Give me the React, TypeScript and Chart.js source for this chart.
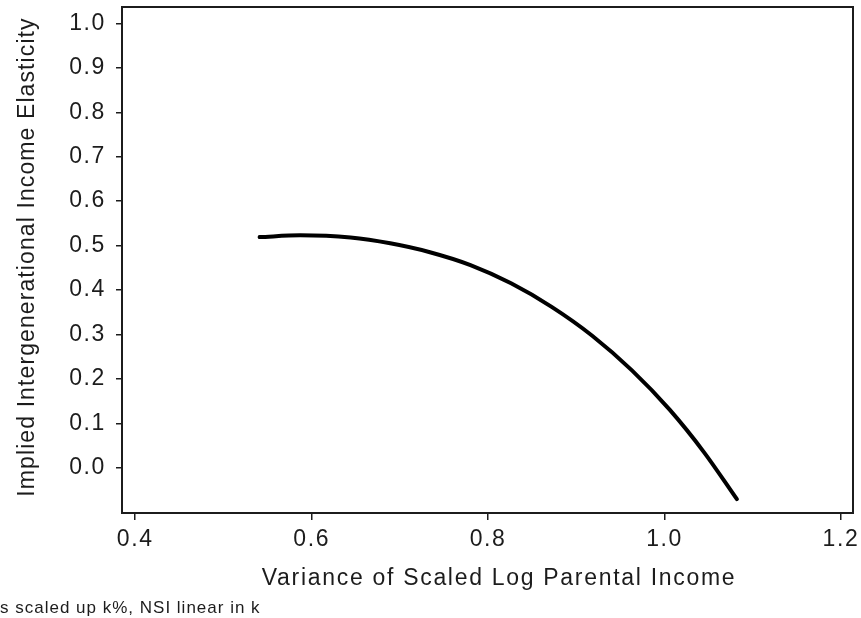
import { useEffect, useRef } from "react";
import { Chart, registerables } from "chart.js";

Chart.register(...registerables);

// Variance of scaled log parental income (x) and implied elasticity (y)
const varianceX = [0.541, 0.587, 0.644, 0.689, 0.734, 0.78, 0.826, 0.872, 0.918, 0.963, 1.006, 1.045, 1.082];
const elasticityY = [0.519, 0.523, 0.518, 0.505, 0.485, 0.456, 0.415, 0.362, 0.297, 0.219, 0.13, 0.034, -0.071];

const xTicks = [0.4, 0.6, 0.8, 1.0, 1.2];
const yTicks = [0.0, 0.1, 0.2, 0.3, 0.4, 0.5, 0.6, 0.7, 0.8, 0.9, 1.0];
const xRange = [0.385, 1.2136];
const yRange = [-0.102, 1.037];

const xTitle = "Variance of Scaled Log Parental Income";
const yTitle = "Implied Intergenerational Income Elasticity";
const footnote = "s scaled up k%, NSI linear in k";

const FONT = "'Liberation Sans', Arial, Helvetica, sans-serif";
const INK = "#1c1c1c";
const TICK_SPACING = "1.6px";

// Wide lettering for the tick labels
const spacingPlugin = {
  id: "letterSpacing",
  afterInit(chart: any) {
    chart.ctx.letterSpacing = TICK_SPACING;
  },
  beforeUpdate(chart: any) {
    chart.ctx.letterSpacing = TICK_SPACING;
  },
  beforeDraw(chart: any) {
    chart.ctx.letterSpacing = TICK_SPACING;
  },
};

// Closed frame, axis titles and the note under the x axis
const framePlugin = {
  id: "frameTitlesNote",
  afterDraw(chart: any) {
    const { ctx, chartArea } = chart;
    ctx.save();
    ctx.strokeStyle = INK;
    ctx.lineWidth = 2;
    ctx.strokeRect(chartArea.left, chartArea.top, chartArea.right - chartArea.left, chartArea.bottom - chartArea.top);

    ctx.fillStyle = INK;
    ctx.textAlign = "center";
    ctx.textBaseline = "middle";

    ctx.font = `23px ${FONT}`;
    ctx.letterSpacing = "1.7px";
    ctx.fillText(xTitle, 499, 579);

    ctx.save();
    ctx.translate(28, 257);
    ctx.rotate(-Math.PI / 2);
    ctx.letterSpacing = "1.1px";
    ctx.fillText(yTitle, 0, 0);
    ctx.restore();

    ctx.font = `17px ${FONT}`;
    ctx.letterSpacing = "1px";
    ctx.textAlign = "left";
    ctx.textBaseline = "alphabetic";
    ctx.fillText(footnote, 0, 613);
    ctx.restore();
  },
};

export default function App() {
  const canvasRef = useRef<HTMLCanvasElement | null>(null);

  useEffect(() => {
    const canvas = canvasRef.current;
    if (!canvas) return;
    const chart = new Chart(canvas, {
      type: "line",
      data: {
        datasets: [
          {
            data: varianceX.map((x, i) => ({ x, y: elasticityY[i] })),
            borderColor: "#000",
            borderWidth: 4,
            borderCapStyle: "round",
            borderJoinStyle: "round",
            pointRadius: 0,
            cubicInterpolationMode: "monotone",
            fill: false,
          },
        ],
      },
      options: {
        responsive: false,
        animation: false,
        devicePixelRatio: 1,
        layout: { padding: { left: 0, right: 8, top: 7, bottom: 0 } },
        plugins: {
          legend: { display: false },
          tooltip: { enabled: false },
        },
        scales: {
          x: {
            type: "linear",
            min: xRange[0],
            max: xRange[1],
            afterBuildTicks: (scale: any) => {
              scale.ticks = xTicks.map((v) => ({ value: v }));
            },
            afterFit: (scale: any) => {
              scale.height = 105;
              scale.paddingLeft = 0;
              scale.paddingRight = 0;
            },
            border: { display: false },
            grid: {
              drawOnChartArea: false,
              drawTicks: true,
              tickLength: 7,
              color: INK,
              lineWidth: 1.5,
            },
            ticks: {
              autoSkip: false,
              maxRotation: 0,
              padding: 6,
              color: INK,
              font: { family: FONT, size: 23 },
              callback: (v: any) => Number(v).toFixed(1),
            },
            title: { display: false, text: xTitle },
          },
          y: {
            type: "linear",
            min: yRange[0],
            max: yRange[1],
            afterBuildTicks: (scale: any) => {
              scale.ticks = yTicks.map((v) => ({ value: v }));
            },
            afterFit: (scale: any) => {
              scale.width = 122;
              scale.paddingTop = 0;
              scale.paddingBottom = 0;
            },
            border: { display: false },
            grid: {
              drawOnChartArea: false,
              drawTicks: true,
              tickLength: 6,
              color: INK,
              lineWidth: 1.5,
            },
            ticks: {
              autoSkip: false,
              padding: 10,
              color: INK,
              font: { family: FONT, size: 23 },
              callback: (v: any) => Number(v).toFixed(1),
            },
            title: { display: false, text: yTitle },
          },
        },
      },
      plugins: [spacingPlugin, framePlugin],
    } as any);
    return () => chart.destroy();
  }, []);

  return (
    <div style={{ position: "absolute", left: 0, top: 0, width: 861, height: 618, background: "#fff" }}>
      <canvas ref={canvasRef} width={861} height={618} style={{ display: "block" }} />
    </div>
  );
}
